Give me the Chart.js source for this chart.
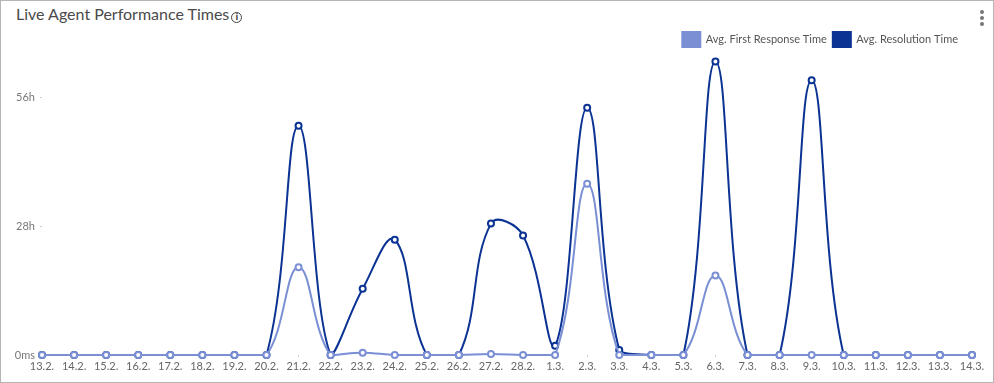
<!DOCTYPE html>
<html>
<head>
<meta charset="utf-8">
<script src="https://cdn.jsdelivr.net/npm/chart.js@4/dist/chart.umd.min.js"></script>
<style>
  html, body { margin: 0; padding: 0; background: #fff; }
  .card {
    position: absolute; left: 0; top: 0; width: 992px; height: 381px;
    border: 1px solid #b5b5b5; background: #fff; overflow: hidden;
  }
  .title {
    position: absolute; left: 15px; top: 3px;
    font-family: Lato, "Noto Sans", sans-serif; font-size: 16px; color: #4a4a4a;
  }
  .info {
    display: inline-block; width: 9px; height: 9px; border: 1.3px solid #444;
    border-radius: 50%; font-size: 8px; line-height: 9px; text-align: center;
    font-weight: bold; color: #444; vertical-align: 0px; margin-left: 2px;
    font-family: "DejaVu Sans", sans-serif;
  }
  .kebab { position: absolute; left: 979px; top: 9px; width: 4px; }
  .kebab span { display: block; width: 4px; height: 4px; border-radius: 50%; background: #777; margin-bottom: 2px; }
  canvas { position: absolute; left: 0; top: 0; }
</style>
</head>
<body>
<div class="card">
  <div class="title">Live Agent Performance Times<span class="info">i</span></div>
  <div class="kebab"><span></span><span></span><span></span></div>
</div>
<canvas id="agentChart" width="994" height="383"></canvas>
<script>
const dates = [
  "13.2.", "14.2.", "15.2.", "16.2.", "17.2.", "18.2.", "19.2.", "20.2.", "21.2.", "22.2.",
  "23.2.", "24.2.", "25.2.", "26.2.", "27.2.", "28.2.", "1.3.", "2.3.", "3.3.", "4.3.",
  "5.3.", "6.3.", "7.3.", "8.3.", "9.3.", "10.3.", "11.3.", "12.3.", "13.3.", "14.3."
];
// hours
const firstResponse = [
  0, 0, 0, 0, 0, 0, 0, 0, 19.1, 0,
  0.5, 0, 0, 0, 0.2, 0, 0, 37.3, 0, 0,
  0, 17.3, 0, 0, 0, 0, 0, 0, 0, 0
];
const resolution = [
  0, 0, 0, 0, 0, 0, 0, 0, 49.9, 0,
  14.4, 25.1, 0, 0, 28.6, 26.0, 2.0, 53.8, 1.1, 0,
  0, 63.9, 0, 0, 59.8, 0, 0, 0, 0, 0
];
const yTicks = [0, 28, 56];

const lightBlue = "#7a8fd4";
const darkBlue = "#0b3393";
const font = { family: "Lato, 'Noto Sans', sans-serif", size: 11 };

// nudge the legend up/left without moving the plot area
const legendNudge = {
  id: "legendNudge",
  afterLayout(chart) {
    const lg = chart.legend;
    lg.left -= 8; lg.right -= 8;
    lg.top -= 4; lg.bottom -= 4;
  }
};

new Chart(document.getElementById("agentChart"), {
  type: "line",
  data: {
    labels: dates,
    datasets: [
      {
        label: "Avg. First Response Time",
        data: firstResponse,
        borderColor: lightBlue,
        backgroundColor: lightBlue,
        pointBackgroundColor: "#fff",
        pointBorderColor: lightBlue,
        borderWidth: 2,
        pointRadius: 3,
        pointBorderWidth: 2,
        tension: 0.4,
        clip: 6,
        fill: false
      },
      {
        label: "Avg. Resolution Time",
        data: resolution,
        borderColor: darkBlue,
        backgroundColor: darkBlue,
        pointBackgroundColor: "#fff",
        pointBorderColor: darkBlue,
        borderWidth: 2,
        pointRadius: 3,
        pointBorderWidth: 2,
        tension: 0.4,
        clip: 6,
        fill: false
      }
    ]
  },
  plugins: [legendNudge],
  options: {
    responsive: false,
    animation: false,
    layout: { padding: { left: 0, right: 22, top: 30, bottom: 3 } },
    plugins: {
      title: { display: false },
      tooltip: { enabled: false },
      legend: {
        position: "top",
        align: "end",
        labels: {
          boxWidth: 18,
          boxHeight: 15,
          padding: 6,
          color: "#555",
          font: font
        }
      }
    },
    scales: {
      x: {
        offset: false,
        border: { display: false },
        grid: { drawOnChartArea: false, drawTicks: true, tickLength: 2, color: "#ccc" },
        ticks: { color: "#666", font: font, padding: 3, maxRotation: 0, autoSkip: false },
        afterFit: s => { s.height = 25; }
      },
      y: {
        min: 0,
        max: 64,
        border: { display: false },
        grid: { drawOnChartArea: false, drawTicks: true, tickLength: 2, color: "#ccc" },
        afterBuildTicks: s => { s.ticks = yTicks.map(v => ({ value: v })); },
        ticks: {
          color: "#777",
          font: font,
          padding: 5,
          callback: v => (v === 0 ? "0ms" : v + "h")
        },
        afterFit: s => { s.width = 42; }
      }
    }
  }
});
</script>
</body>
</html>
